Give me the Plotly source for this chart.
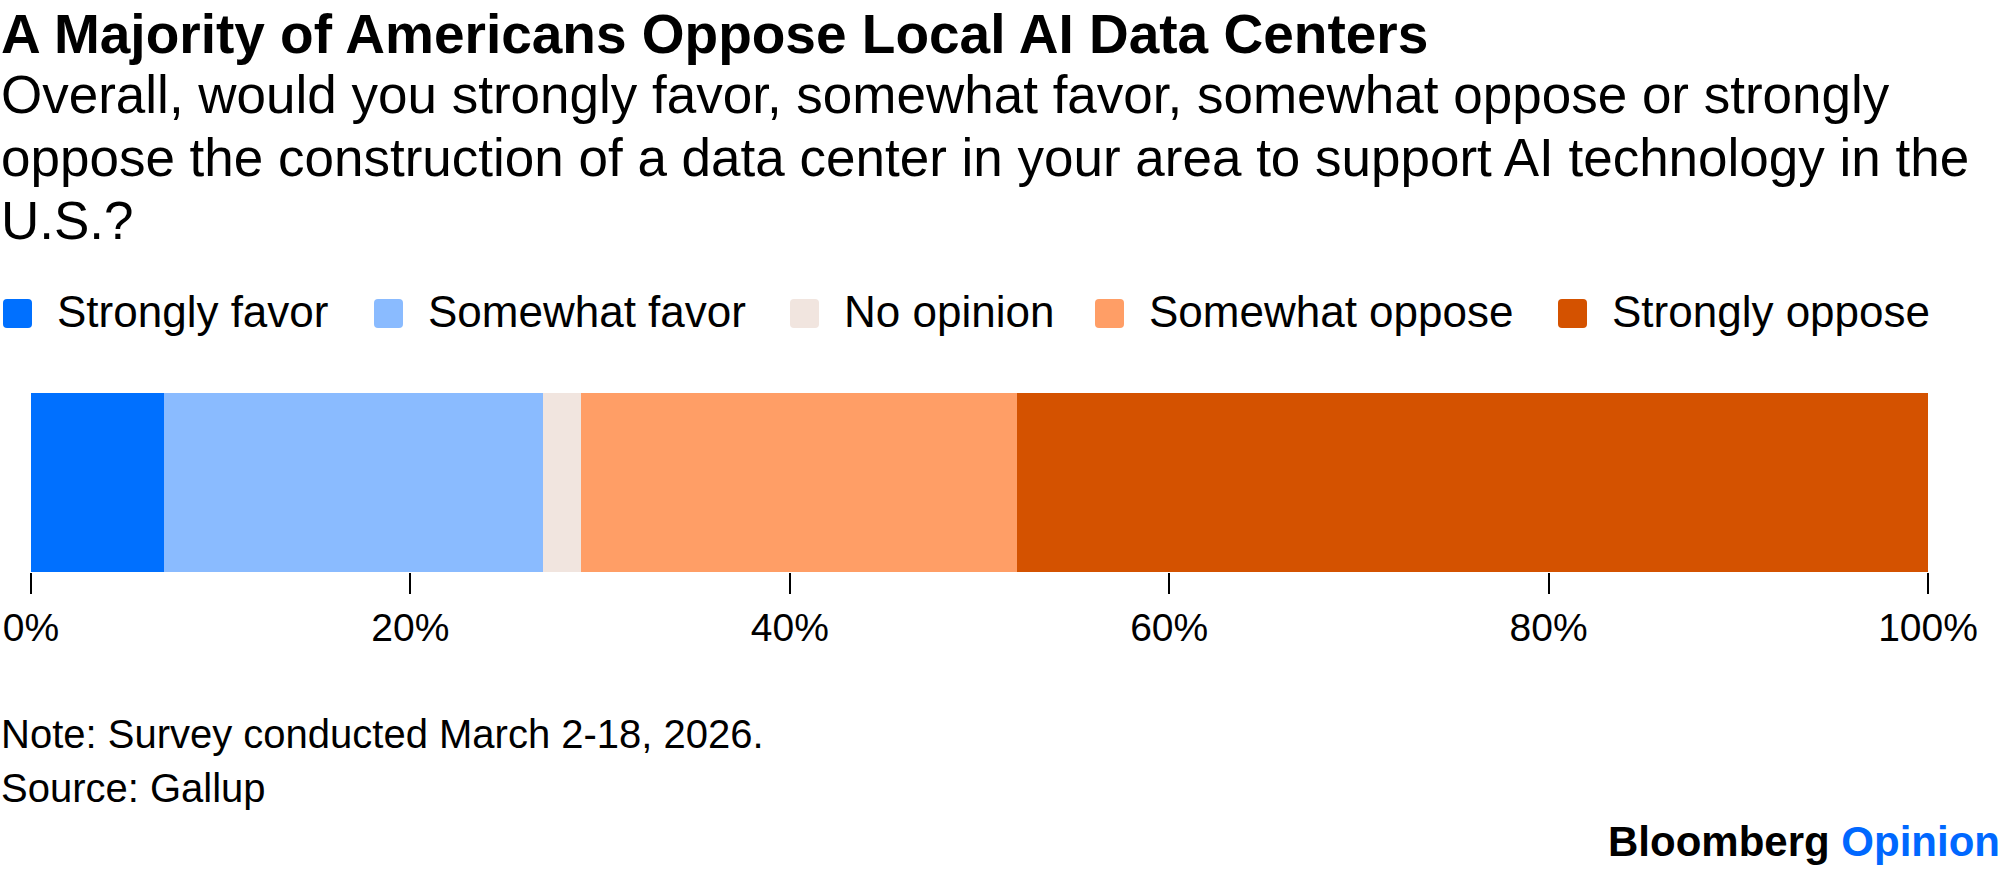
import plotly.graph_objects as go

# survey answers, share of respondents (%)
answers = ["Strongly favor", "Somewhat favor", "No opinion", "Somewhat oppose", "Strongly oppose"]
shares = [7, 20, 2, 23, 48]
colors = ["#0070FF", "#8ABBFF", "#F1E5DF", "#FF9E66", "#D45200"]
tick_values = [0, 20, 40, 60, 80, 100]
tick_labels = [f"{v}%" for v in tick_values]

title = "A Majority of Americans Oppose Local AI Data Centers"
subtitle_lines = [
    "Overall, would you strongly favor, somewhat favor, somewhat oppose or strongly",
    "oppose the construction of a data center in your area to support AI technology in the",
    "U.S.?",
]
note = "Note: Survey conducted March 2-18, 2026."
source = "Source: Gallup"

W, H = 2003, 870
L, R, T, B = 31, 75, 393, 298
FONT = "Liberation Sans, Arial, sans-serif"


def px(x):
    # pixel x -> paper x
    return (x - L) / (W - L - R)


def py(y):
    # pixel y -> paper y
    return (H - B - y) / (H - T - B)


def text_at(text, x, baseline, size, bold=False, anchor="left"):
    # place a single line of text by its baseline
    if bold:
        text = f"<b>{text}</b>"
    fig.add_annotation(text=text, x=px(x), y=py(baseline - 0.905 * size - 1),
                       xref="paper", yref="paper", xanchor=anchor, yanchor="top",
                       showarrow=False, align="left",
                       font=dict(size=size, color="black", family=FONT))


fig = go.Figure()
for name, val, col in zip(answers, shares, colors):
    fig.add_trace(go.Bar(
        x=[val], y=[""], orientation="h", name=name,
        marker=dict(color=col, line=dict(width=0)),
        showlegend=False, hoverinfo="name+x",
    ))

# custom legend: rounded swatches + labels
legend_x = [3, 374, 790, 1095, 1558]
for name, col, x0 in zip(answers, colors, legend_x):
    r = 4
    s = 29
    path = (f"M {r},0 L {s - r},0 Q {s},0 {s},{r} L {s},{s - r} Q {s},{s} {s - r},{s} "
            f"L {r},{s} Q 0,{s} 0,{s - r} L 0,{r} Q 0,0 {r},0 Z")
    fig.add_shape(type="path", path=path, xref="paper", yref="paper",
                  xsizemode="pixel", ysizemode="pixel",
                  xanchor=px(x0), yanchor=py(328),
                  fillcolor=col, line=dict(width=0))
    text_at(name, x0 + 52, 326, 44)

text_at(title, -1, 52, 55, bold=True)
for i, line in enumerate(subtitle_lines):
    text_at(line, -1, 112 + 63 * i, 53)
text_at(note, -1, 747, 40)
text_at(source, -1, 801, 40)
text_at("<b>Bloomberg</b> <b><span style='color:#0068FF'>Opinion</span></b>",
        2002, 855, 42, anchor="right")

fig.update_layout(
    width=W, height=H,
    margin=dict(l=L, r=R, t=T, b=B, autoexpand=False),
    barmode="stack", bargap=0,
    plot_bgcolor="white", paper_bgcolor="white",
    font=dict(family=FONT, color="black"),
    xaxis=dict(range=[0, 100], tickmode="array", tickvals=tick_values, ticktext=tick_labels,
               ticks="outside", ticklen=21, tickwidth=2, tickcolor="black",
               showgrid=False, zeroline=False, showline=False, automargin=False,
               tickfont=dict(size=39, color="black", family=FONT)),
    yaxis=dict(visible=False, range=[-0.5, 0.5]),
)

fig.write_html("out.html", config={"displayModeBar": False},
               post_script="document.body.style.margin = '0px';")
